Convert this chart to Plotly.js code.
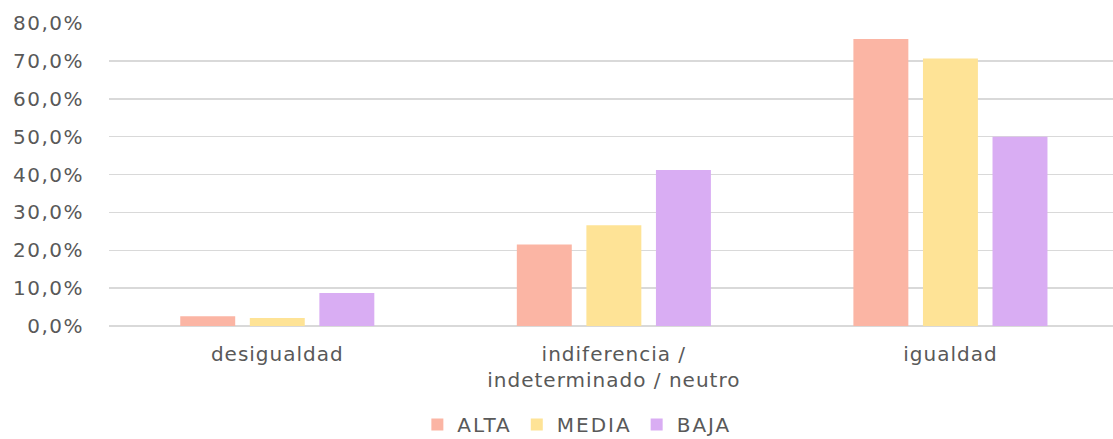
<!DOCTYPE html>
<html>
<head>
<meta charset="utf-8">
<script src="https://cdn.plot.ly/plotly-3.0.1.min.js"></script>
<style>
html,body{margin:0;padding:0;background:#fff;}
#chart{width:1113px;height:439px;}
#chart .xtick text{letter-spacing:1px;}
#chart .ytick text{letter-spacing:1.5px;}
.legendtext{letter-spacing:2px;}
</style>
</head>
<body>
<div id="chart"></div>
<script>
const categories = ["desigualdad", "indiferencia /<br>indeterminado / neutro", "igualdad"];
const alta = [2.6, 21.5, 75.8];
const media = [2.1, 26.6, 70.6];
const baja = [8.7, 41.2, 50.0];
const seriesNames = ["ALTA", "MEDIA", "BAJA"];
const colors = ["#FBB5A4", "#FEE396", "#D9ADF3"];
const yTicks = [0, 10, 20, 30, 40, 50, 60, 70, 80];
const yTickText = yTicks.map(v => v.toFixed(1).replace(".", ",") + "%");

const font = "'DejaVu Sans', Verdana, sans-serif";
const data = [alta, media, baja].map((vals, i) => ({
  type: "bar",
  name: seriesNames[i],
  x: categories,
  y: vals,
  marker: {color: colors[i]},
  hoverinfo: "none"
}));

const layout = {
  width: 1113,
  height: 439,
  margin: {l: 109, r: 0, t: 23, b: 113, autoexpand: false},
  paper_bgcolor: "#fff",
  plot_bgcolor: "#fff",
  barmode: "group",
  bargap: 0.38,
  bargroupgap: 0.21,
  font: {family: font, color: "#595959", size: 19},
  xaxis: {
    range: [-0.5, 2.483],
    automargin: false,
    showgrid: false,
    zeroline: false,
    showline: false,
    ticks: "",
    ticklabelstandoff: 14,
    tickfont: {family: font, size: 20, color: "#595959"}
  },
  yaxis: {
    range: [0, 80],
    automargin: false,
    tickvals: yTicks,
    ticktext: yTickText,
    showgrid: true,
    gridcolor: "#D9D9D9",
    gridwidth: 1.5,
    zeroline: true,
    zerolinecolor: "#D9D9D9",
    zerolinewidth: 1.5,
    showline: false,
    ticklabelstandoff: 24,
    tickfont: {family: font, size: 20, color: "#595959"}
  },
  showlegend: true,
  legend: {
    orientation: "h",
    x: 0.466,
    xanchor: "center",
    y: -0.325,
    yanchor: "middle",
    font: {family: font, size: 20, color: "#595959"},
    traceorder: "normal"
  }
};

Plotly.newPlot("chart", data, layout, {staticPlot: true, displayModeBar: false});
</script>
</body>
</html>
